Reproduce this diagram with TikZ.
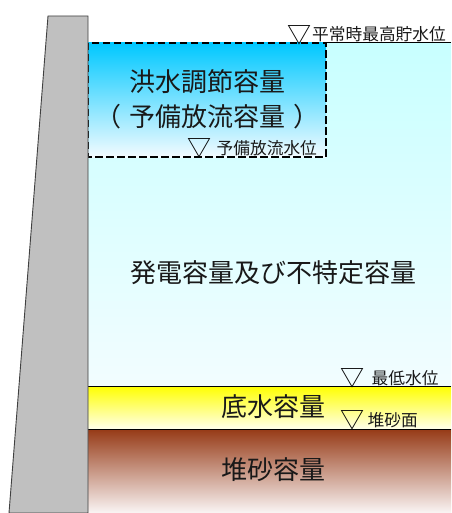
\documentclass[tikz,border=0pt]{standalone}
\usepackage{fontspec}
\setmainfont{Noto Sans CJK JP}
\begin{document}
\begin{tikzpicture}[x=1pt,y=-1pt,
  big/.style={inner sep=0pt,font=\fontsize{26}{26}\selectfont,text=black!90},
  lvl/.style={inner sep=0pt,anchor=west,font=\fontsize{16.7}{16.7}\selectfont,text=black!90},
  tri/.style={inner sep=0pt,font=\fontsize{24}{24}\selectfont,text=black},
  edge/.style={draw=black,line width=1pt}]
\useasboundingbox (0,0) rectangle (451,513);
\fill[white] (0,0) rectangle (451,513);
% water body
\path[top color={rgb,255:red,200;green,255;blue,255},bottom color={rgb,255:red,242;green,253;blue,255}] (88,43) rectangle (451,386);
% flood control box
\path[top color={rgb,255:red,0;green,200;blue,255},bottom color={rgb,255:red,242;green,251;blue,255}] (88,43) rectangle (326,157);
% dead storage
\path[top color={rgb,255:red,255;green,255;blue,0},bottom color={rgb,255:red,255;green,255;blue,235}] (88,386) rectangle (451,429);
% sediment
\path[top color={rgb,255:red,150;green,58;blue,22},bottom color={rgb,255:red,250;green,245;blue,245}] (88,429) rectangle (451,513);
% lines
\coordinate (hwR) at (451,43);
\coordinate (hwL) at (326,43);
\draw[edge] (hwL) -- (hwR);
\coordinate (lwL) at (88,386);
\coordinate (lwR) at (451,386);
\draw[edge] (lwL) -- (lwR);
\coordinate (sdL) at (88,429);
\coordinate (sdR) at (451,429);
\draw[edge] (sdL) -- (sdR);
\draw[black,line width=1.8pt,dash pattern=on 7.5pt off 3.5pt] (88,43) rectangle (326,157);
% dam
\draw[fill={rgb,255:red,192;green,192;blue,192},draw=black!75,line width=0.9pt] (48,16) -- (88,16) -- (88,513) -- (9,513) -- cycle;
% level marks
\node[tri] (vHigh) at (299,35) {▽};
\node[tri] (vRes) at (199,148) {▽};
\node[tri] (vLow) at (352.5,378.5) {▽};
\node[tri] (vSed) at (352.5,420.5) {▽};
\node[lvl] (tHigh) at (312,34.5) {平常時最高貯水位};
\node[lvl] (tRes) at (216.5,148) {予備放流水位};
\node[lvl] (tLow) at (371.5,378) {最低水位};
\node[lvl] (tSed) at (367.5,420.5) {堆砂面};
% capacity labels
\node[big] (flood1) at (207,82) {洪水調節容量};
\node[big] (flood2) at (207.5,117) {（\hspace{8pt}予備放流容量\hspace{8pt}）};
\node[big] (power) at (273,273) {発電容量及び不特定容量};
\node[big] (dead) at (273.5,407) {底水容量};
\node[big] (sed) at (273.5,470) {堆砂容量};
\end{tikzpicture}
\end{document}
